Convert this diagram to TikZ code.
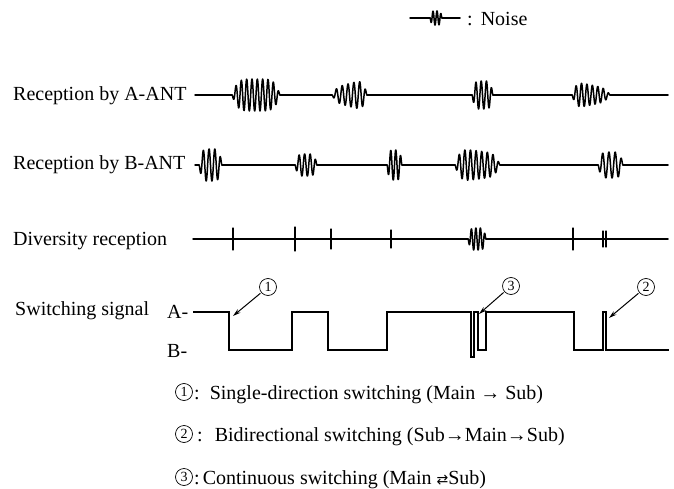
\documentclass[tikz,border=0pt]{standalone}
\usepackage{fontspec}
\setmainfont{Liberation Serif}
\newfontfamily\symfont{DejaVu Sans}
\usetikzlibrary{arrows.meta}
\newcommand{\nburst}[6]{% x0,x1,y,amp,cycles,skew
  \draw[sig] plot[variable=\t, domain=0:1, samples=180]
    ({#1+(#2-#1)*\t},
     {#3 + #4*sin(360*#5*\t)*(1-(1-sin(180*\t))*(1-sin(180*\t))*(1-sin(180*\t)))*(1+#6*(2*\t-1))/(1+abs(#6))});}
\newcommand{\seg}[3]{\draw[sig] (#1,#3) -- (#2,#3);}
\begin{document}
\begin{tikzpicture}[x=1pt,y=-1pt,
  sig/.style={line width=1.5pt, line join=round, line cap=round},
  sw/.style={line width=1.6pt, line join=miter},
  lbl/.style={font=\fontsize{20}{24}\selectfont, inner sep=0pt, anchor=base west},
  cnum/.style={circle, draw, line width=0.7pt, inner sep=0pt, minimum size=17pt,
               font=\fontsize{14}{14}\selectfont},
  ptr/.style={line width=1pt, -{Stealth[length=8pt,width=4.5pt]}, shorten <=1pt}]
\useasboundingbox (0,0) rectangle (674,489);

% legend
\seg{410}{430}{18}
\nburst{430}{442}{18}{7}{3}{0}
\seg{442}{460}{18}
\node[lbl] (noise) at (467,26) {:\hspace{8pt}Noise};

% labels
\node[lbl] (la) at (13,101) {Reception by A-ANT};
\node[lbl] (lb) at (13,170) {Reception by B-ANT};
\node[lbl] (ld) at (13,245) {Diversity reception};
\node[lbl] (ls) at (15,315) {Switching signal};
\node[lbl] (lA) at (167,318) {A-};
\node[lbl] (lB) at (167,357) {B-};

% A-ANT
\seg{195}{232}{95}
\nburst{232}{280}{95}{16}{9}{0}
\seg{280}{332}{95}
\nburst{332}{367}{95}{16}{6}{0.4}
\seg{367}{472}{95}
\nburst{472}{493}{95}{14}{4}{0}
\seg{493}{572}{95}
\nburst{572}{610}{95}{14}{7}{-0.4}
\seg{610}{668}{95}

% B-ANT
\seg{195}{199}{165}
\nburst{199}{222}{165}{16}{4}{0}
\seg{222}{295}{165}
\nburst{295}{317}{165}{11}{4}{0}
\seg{317}{387}{165}
\nburst{387}{402}{165}{15}{3}{0}
\seg{402}{455}{165}
\nburst{455}{500}{165}{17}{8}{-0.2}
\seg{500}{598}{165}
\nburst{598}{623}{165}{13}{4}{0}
\seg{623}{668}{165}

% Diversity
\seg{193}{468}{239}
\nburst{468}{486}{239}{11}{4}{0}
\seg{486}{668}{239}
\foreach \xx/\hh in {233/11, 295/12, 331/10, 391/9, 573/11, 603/8, 606/8}
  \draw[sig, line width=1.2pt] (\xx,239-\hh) -- (\xx,239+\hh);

% switching signal
\draw[sw] (193,312) -- (229,312) -- (229,350) -- (292,350) -- (292,312)
  -- (328,312) -- (328,350) -- (387,350) -- (387,312) -- (471,312)
  -- (471,357) -- (474,357) -- (474,312) -- (478,312) -- (478,350)
  -- (486,350) -- (486,312) -- (574,312) -- (574,350) -- (603,350)
  -- (603,312) -- (606,312) -- (606,350) -- (669,350);

\coordinate (tip1) at (233,316);
\coordinate (tip3) at (479,314);
\coordinate (tip2) at (609,318);
\node[cnum] (c1) at (268,287) {1};
\node[cnum] (c3) at (511,286) {3};
\node[cnum] (c2) at (646,287) {2};
\draw[ptr] (c1) -- (tip1);
\draw[ptr] (c3) -- (tip3);
\draw[ptr] (c2) -- (tip2);

% explanations
\node[cnum] (k1) at (184,392) {1};
\node[lbl] (t1) at (194,399) {:\hspace{10pt}Single-direction switching (Main → Sub)};
\node[cnum] (k2) at (184,434) {2};
\node[lbl] (t2) at (197,441) {:\hspace{12pt}Bidirectional switching (Sub→Main→Sub)};
\node[cnum] (k3) at (184,477) {3};
\node[lbl] (t3) at (194,484) {:\hspace{3pt}Continuous switching (Main {\symfont\fontsize{14}{14}\selectfont ⇄}Sub)};
\end{tikzpicture}
\end{document}
